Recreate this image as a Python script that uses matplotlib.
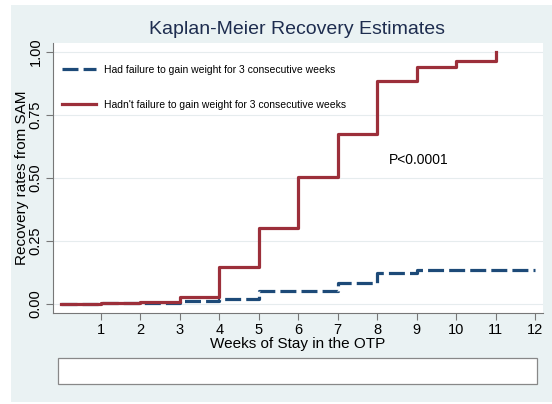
import numpy as np
from matplotlib import pyplot as plt
from matplotlib.patches import Rectangle
from matplotlib.lines import Line2D

plt.rcParams['font.family'] = ['Liberation Sans', 'DejaVu Sans']

# Kaplan-Meier estimates
weeks_had = [0, 1, 2, 3, 4, 5, 6, 7, 8, 9, 10, 11, 12]
rec_had = [0, 0.002, 0.003, 0.01, 0.02, 0.053, 0.053, 0.082, 0.122, 0.135, 0.135, 0.135, 0.135]
weeks_hadnt = [0, 1, 2, 3, 4, 5, 6, 7, 8, 9, 10, 11]
rec_hadnt = [0, 0.003, 0.007, 0.027, 0.146, 0.303, 0.505, 0.675, 0.885, 0.94, 0.965, 1.0]

xticks = list(range(1, 13))
yticks = [0, 0.25, 0.5, 0.75, 1.0]
ytick_labels = ['0.00', '0.25', '0.50', '0.75', '1.00']
label_had = "Had failure to gain weight for 3 consecutive weeks"
label_hadnt = "Hadn't failure to gain weight for 3 consecutive weeks"

blue = '#1d4a78'
red = '#9c2f3a'
panel = '#eaf2f3'

fig = plt.figure(figsize=(5.52, 4.04), dpi=100, facecolor='white')
fig.patches.append(Rectangle((11 / 552, 2 / 404), 1, 397 / 404, transform=fig.transFigure,
                             facecolor=panel, edgecolor='none', zorder=-5))
ax = fig.add_axes([53 / 552, 1 - 313 / 404, 490 / 552, 270 / 404])
ax.set_facecolor('white')

ax.step(weeks_had, rec_had, where='post', color=blue, lw=2.3, dashes=(5, 1.6))
ax.step(weeks_hadnt, rec_hadnt, where='post', color=red, lw=2.3)

ax.set_xlim(-0.215, 12.2)
ax.set_ylim(-0.036, 1.036)
ax.set_xticks(xticks)
ax.set_xticklabels([str(t) for t in xticks])
ax.set_yticks(yticks)
ax.set_yticklabels(ytick_labels, rotation=90, va='center')
ax.tick_params(labelsize=10.5, color='#777777', length=5, width=0.8)
ax.tick_params(axis='x', pad=2)
ax.tick_params(axis='y', pad=2.5)
ax.yaxis.grid(True, color='#e6ecee', lw=0.8)
ax.set_axisbelow(True)
for s in ['top', 'right']:
    ax.spines[s].set_visible(False)
for s in ['left', 'bottom']:
    ax.spines[s].set_color('#777777')
    ax.spines[s].set_linewidth(0.8)

ax.set_xlabel("Weeks of Stay in the OTP", fontsize=11, labelpad=0.5)
ax.set_ylabel("Recovery rates from SAM", fontsize=11, labelpad=0)
fig.text(297 / 552, 1 - 30 / 404, "Kaplan-Meier Recovery Estimates", fontsize=14,
         color='#1e2d4f', ha='center', va='center')

ax.text(9.05, 0.571, "P<0.0001", fontsize=10, ha='center', va='center')

handles = [Line2D([], [], color=blue, lw=2.3, dashes=(5, 1.6)),
           Line2D([], [], color=red, lw=2.3)]
ax.legend(handles, [label_had, label_hadnt], loc='upper left', bbox_to_anchor=(0.0, 0.955),
          frameon=False, fontsize=7.5, handlelength=3.2, labelspacing=2.4)

fig.patches.append(Rectangle((58 / 552, 1 - 384 / 404), 479 / 552, 26 / 404,
                             transform=fig.transFigure, facecolor='white',
                             edgecolor='#888888', lw=0.9, zorder=1))

fig.savefig('out.png', dpi=100)
